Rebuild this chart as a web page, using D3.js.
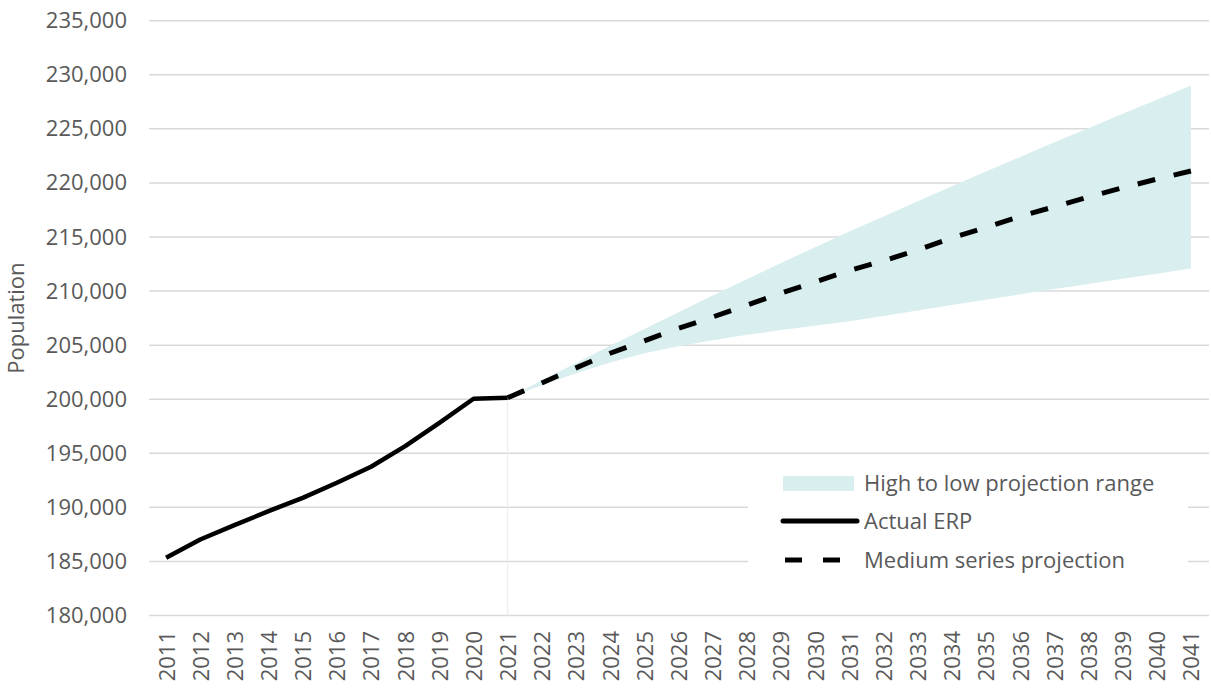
<!DOCTYPE html>
<html>
<head>
<meta charset="utf-8">
<script src="https://cdn.jsdelivr.net/npm/d3@7"></script>
<style>
  html, body { margin: 0; padding: 0; background: #fff; }
  svg { display: block; font-family: "Open Sans", "Liberation Sans", sans-serif; }
</style>
</head>
<body>
<svg id="chart" width="1211" height="691"></svg>
<script>
// ---- Data ----
const years = d3.range(2011, 2042);
const yTicks = [180000, 185000, 190000, 195000, 200000, 205000, 210000, 215000, 220000, 225000, 230000, 235000];

const erpYears = [2011, 2012, 2013, 2014, 2015, 2016, 2017, 2018, 2019, 2020, 2021];
const erpValues = [185340, 187030, 188350, 189650, 190880, 192270, 193750, 195660, 197820, 200040, 200130];

const projYears = [2021, 2022, 2023, 2024, 2025, 2026, 2027, 2028, 2029, 2030, 2031,
                   2032, 2033, 2034, 2035, 2036, 2037, 2038, 2039, 2040, 2041];
const mediumValues = [200130, 201500, 202900, 204250, 205400, 206550, 207600, 208700, 209800, 210850, 211900,
                      212800, 213800, 214900, 215900, 216900, 217800, 218700, 219550, 220350, 221100];
const highValues = [200130, 201750, 203350, 204950, 206500, 208050, 209600, 211100, 212600, 214050, 215500,
                    216900, 218300, 219700, 221050, 222400, 223750, 225050, 226400, 227700, 229000];
const lowValues = [200130, 201300, 202400, 203400, 204250, 204900, 205450, 205950, 206400, 206800, 207200,
                   207700, 208200, 208700, 209200, 209700, 210200, 210650, 211150, 211600, 212080];

const legendLabels = ["High to low projection range", "Actual ERP", "Medium series projection"];

// ---- Style ----
const textColor = "#595959";
const gridColor = "#d9d9d9";
const bandColor = "#d9eeef";
const fontSize = 22;

const svg = d3.select("#chart");

const x = d3.scalePoint().domain(years).range([149, 1208]).padding(0.5);
const y = d3.scaleLinear().domain([180000, 235000]).range([615.5, 20.7]);

// Gridlines
svg.append("g").selectAll("line").data(yTicks).join("line")
  .attr("x1", 149).attr("x2", 1209)
  .attr("y1", d => y(d)).attr("y2", d => y(d))
  .attr("stroke", gridColor).attr("stroke-width", 1.5);

// Y axis labels
const yAxis = d3.axisLeft(y).tickValues(yTicks).tickSize(0).tickPadding(0)
  .tickFormat(d3.format(","));
svg.append("g").attr("transform", "translate(127,0)").call(yAxis)
  .call(g => g.select(".domain").remove())
  .call(g => g.selectAll("text").attr("fill", textColor).style("font-size", fontSize + "px")
    .style("font-family", "'Open Sans', sans-serif"));

// X axis labels (rotated)
const xAxis = d3.axisBottom(x).tickSize(0).tickPadding(0);
svg.append("g").attr("transform", "translate(0,631)").call(xAxis)
  .call(g => g.select(".domain").remove())
  .call(g => g.selectAll("text")
    .attr("fill", textColor)
    .style("font-size", fontSize + "px")
    .style("font-family", "'Open Sans', sans-serif")
    .attr("transform", "rotate(-90)")
    .attr("text-anchor", "end")
    .attr("x", 0).attr("y", 0).attr("dy", "0.36em"));

// Y axis title
svg.append("text")
  .attr("transform", `translate(24,${y(207500)}) rotate(-90)`)
  .attr("text-anchor", "middle")
  .attr("fill", textColor)
  .style("font-size", fontSize + "px")
  .text("Population");

// Projection band
const projData = projYears.map((yr, i) => ({ yr, hi: highValues[i], lo: lowValues[i], med: mediumValues[i] }));
svg.append("path").datum(projData)
  .attr("fill", bandColor)
  .attr("d", d3.area().x(d => x(d.yr)).y0(d => y(d.lo)).y1(d => y(d.hi)));

// faint vertical edge at 2021
svg.append("line")
  .attr("x1", x(2021)).attr("x2", x(2021))
  .attr("y1", y(erpValues[erpValues.length - 1])).attr("y2", y(180000))
  .attr("stroke", "#e3eded").attr("stroke-width", 1);

// Medium projection (dashed)
svg.append("path").datum(projData)
  .attr("fill", "none").attr("stroke", "#000").attr("stroke-width", 5)
  .attr("stroke-dasharray", "18,19")
  .attr("d", d3.line().x(d => x(d.yr)).y(d => y(d.med)));

// Actual ERP
const erpData = erpYears.map((yr, i) => ({ yr, v: erpValues[i] }));
svg.append("path").datum(erpData)
  .attr("fill", "none").attr("stroke", "#000").attr("stroke-width", 4.5)
  .attr("stroke-linejoin", "round")
  .attr("d", d3.line().x(d => x(d.yr)).y(d => y(d.v)));

// Legend
const lg = svg.append("g");
lg.append("rect").attr("x", 748).attr("y", 462).attr("width", 440).attr("height", 123).attr("fill", "#fff");
lg.append("rect").attr("x", 783).attr("y", 476).attr("width", 71).attr("height", 15).attr("fill", bandColor);
lg.append("line").attr("x1", 783).attr("x2", 857).attr("y1", 521).attr("y2", 521)
  .attr("stroke", "#000").attr("stroke-width", 5).attr("stroke-linecap", "round");
lg.append("line").attr("x1", 785).attr("x2", 845).attr("y1", 560).attr("y2", 560)
  .attr("stroke", "#000").attr("stroke-width", 5).attr("stroke-dasharray", "17,21");
lg.selectAll("text.leg").data(legendLabels).join("text")
  .attr("class", "leg")
  .attr("x", 864)
  .attr("y", (d, i) => [483, 521, 560][i])
  .attr("dy", "0.35em")
  .attr("fill", textColor)
  .style("font-size", fontSize + "px")
  .text(d => d);
</script>
</body>
</html>
